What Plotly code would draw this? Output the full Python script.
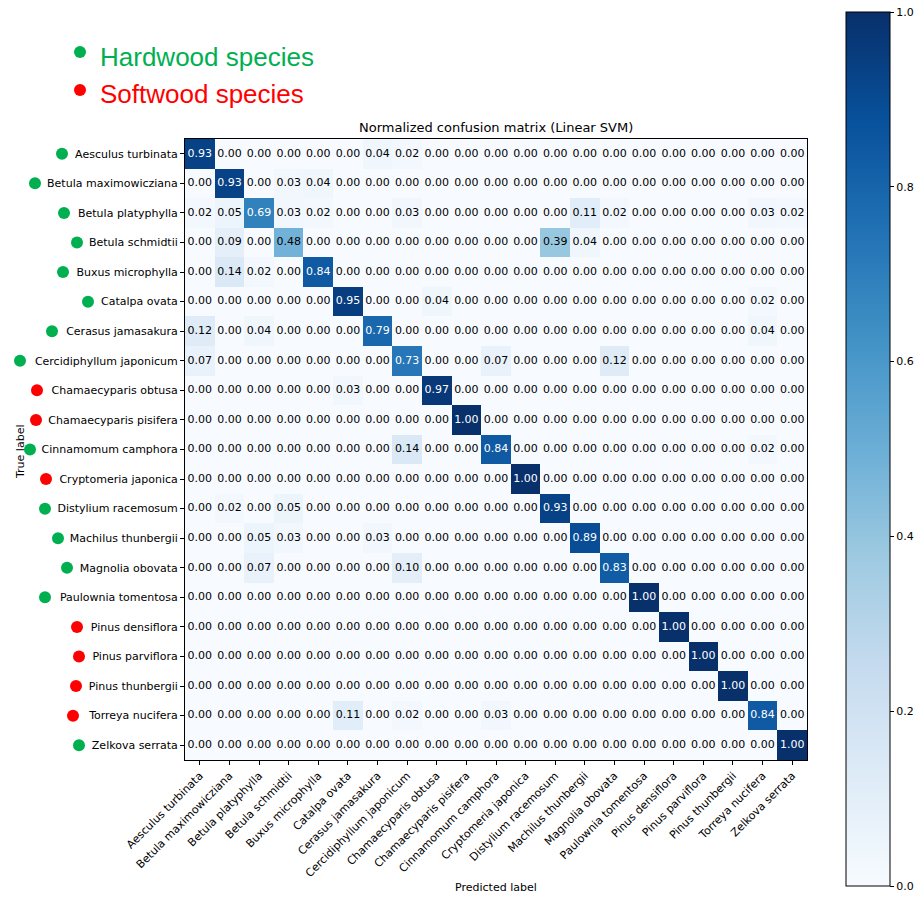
import plotly.graph_objects as go

# Species (true and predicted classes share the same order)
species = [
    "Aesculus turbinata", "Betula maximowicziana", "Betula platyphylla",
    "Betula schmidtii", "Buxus microphylla", "Catalpa ovata",
    "Cerasus jamasakura", "Cercidiphyllum japonicum", "Chamaecyparis obtusa",
    "Chamaecyparis pisifera", "Cinnamomum camphora", "Cryptomeria japonica",
    "Distylium racemosum", "Machilus thunbergii", "Magnolia obovata",
    "Paulownia tomentosa", "Pinus densiflora", "Pinus parviflora",
    "Pinus thunbergii", "Torreya nucifera", "Zelkova serrata",
]
softwood = {
    "Chamaecyparis obtusa", "Chamaecyparis pisifera", "Cryptomeria japonica",
    "Pinus densiflora", "Pinus parviflora", "Pinus thunbergii", "Torreya nucifera",
}

# Normalized confusion matrix (rows: true label, columns: predicted label)
cm = [
    [0.93, 0, 0, 0, 0, 0, 0.04, 0.02, 0, 0, 0, 0, 0, 0, 0, 0, 0, 0, 0, 0, 0],
    [0, 0.93, 0, 0.03, 0.04, 0, 0, 0, 0, 0, 0, 0, 0, 0, 0, 0, 0, 0, 0, 0, 0],
    [0.02, 0.05, 0.69, 0.03, 0.02, 0, 0, 0.03, 0, 0, 0, 0, 0, 0.11, 0.02, 0, 0, 0, 0, 0.03, 0.02],
    [0, 0.09, 0, 0.48, 0, 0, 0, 0, 0, 0, 0, 0, 0.39, 0.04, 0, 0, 0, 0, 0, 0, 0],
    [0, 0.14, 0.02, 0, 0.84, 0, 0, 0, 0, 0, 0, 0, 0, 0, 0, 0, 0, 0, 0, 0, 0],
    [0, 0, 0, 0, 0, 0.95, 0, 0, 0.04, 0, 0, 0, 0, 0, 0, 0, 0, 0, 0, 0.02, 0],
    [0.12, 0, 0.04, 0, 0, 0, 0.79, 0, 0, 0, 0, 0, 0, 0, 0, 0, 0, 0, 0, 0.04, 0],
    [0.07, 0, 0, 0, 0, 0, 0, 0.73, 0, 0, 0.07, 0, 0, 0, 0.12, 0, 0, 0, 0, 0, 0],
    [0, 0, 0, 0, 0, 0.03, 0, 0, 0.97, 0, 0, 0, 0, 0, 0, 0, 0, 0, 0, 0, 0],
    [0, 0, 0, 0, 0, 0, 0, 0, 0, 1.00, 0, 0, 0, 0, 0, 0, 0, 0, 0, 0, 0],
    [0, 0, 0, 0, 0, 0, 0, 0.14, 0, 0, 0.84, 0, 0, 0, 0, 0, 0, 0, 0, 0.02, 0],
    [0, 0, 0, 0, 0, 0, 0, 0, 0, 0, 0, 1.00, 0, 0, 0, 0, 0, 0, 0, 0, 0],
    [0, 0.02, 0, 0.05, 0, 0, 0, 0, 0, 0, 0, 0, 0.93, 0, 0, 0, 0, 0, 0, 0, 0],
    [0, 0, 0.05, 0.03, 0, 0, 0.03, 0, 0, 0, 0, 0, 0, 0.89, 0, 0, 0, 0, 0, 0, 0],
    [0, 0, 0.07, 0, 0, 0, 0, 0.10, 0, 0, 0, 0, 0, 0, 0.83, 0, 0, 0, 0, 0, 0],
    [0, 0, 0, 0, 0, 0, 0, 0, 0, 0, 0, 0, 0, 0, 0, 1.00, 0, 0, 0, 0, 0],
    [0, 0, 0, 0, 0, 0, 0, 0, 0, 0, 0, 0, 0, 0, 0, 0, 1.00, 0, 0, 0, 0],
    [0, 0, 0, 0, 0, 0, 0, 0, 0, 0, 0, 0, 0, 0, 0, 0, 0, 1.00, 0, 0, 0],
    [0, 0, 0, 0, 0, 0, 0, 0, 0, 0, 0, 0, 0, 0, 0, 0, 0, 0, 1.00, 0, 0],
    [0, 0, 0, 0, 0, 0.11, 0, 0.02, 0, 0, 0.03, 0, 0, 0, 0, 0, 0, 0, 0, 0.84, 0],
    [0, 0, 0, 0, 0, 0, 0, 0, 0, 0, 0, 0, 0, 0, 0, 0, 0, 0, 0, 0, 1.00],
]
colorbar_ticks = [0.0, 0.2, 0.4, 0.6, 0.8, 1.0]

# ---- layout geometry (pixels) ----
FIG_W, FIG_H = 916, 898
L, R, T, B = 185, 807, 139, 760
PW, PH = R - L, B - T

def px_x(px):
    return (px - L) / PW

def px_y(py):
    return (B - py) / PH

# horizontal centre of the category dot placed before each row label
dot_px = [62, 35, 64, 77, 63, 88, 52, 20, 37, 36, 30, 46, 45, 58, 67, 45, 77, 79, 76, 73, 79]

GREEN = "#00b050"
RED = "#ff0000"
FONT = "DejaVu Sans"

blues = [
    [0.0, "#f7fbff"], [0.125, "#deebf7"], [0.25, "#c6dbef"], [0.375, "#9ecae1"],
    [0.5, "#6baed6"], [0.625, "#4292c6"], [0.75, "#2171b5"], [0.875, "#08519c"],
    [1.0, "#08306b"],
]

n = len(species)
idx = list(range(n))

fig = go.Figure()
fig.add_trace(go.Heatmap(
    z=cm, x=idx, y=idx, zmin=0, zmax=1, colorscale=blues,
    xgap=0, ygap=0, hoverinfo="skip",
    colorbar=dict(
        x=px_x(846), xanchor="left", xpad=0, ypad=0,
        y=px_y((12 + 886) / 2), yanchor="middle",
        lenmode="pixels", len=886 - 12, thickness=44,
        outlinecolor="black", outlinewidth=1,
        tickvals=colorbar_ticks, ticktext=[f"{v:.1f}" for v in colorbar_ticks],
        ticks="outside", ticklen=4, tickcolor="black",
        tickfont=dict(family=FONT, size=11, color="black"),
    ),
))

# cell values, white on dark cells
thresh = max(max(r) for r in cm) / 2
tx, ty, tt, tc = [], [], [], []
for i, row in enumerate(cm):
    for j, v in enumerate(row):
        tx.append(j)
        ty.append(i)
        tt.append(f"{v:.2f}")
        tc.append("white" if v > thresh else "black")
fig.add_trace(go.Scatter(
    x=tx, y=ty, text=tt, mode="text", hoverinfo="skip", showlegend=False,
    textfont=dict(family=FONT, size=11, color=tc),
))

axis_common = dict(
    showgrid=False, zeroline=False, showline=True, linecolor="black", linewidth=1,
    mirror=True, ticks="outside", ticklen=4, tickcolor="black",
    tickfont=dict(family=FONT, size=11, color="black"),
    tickmode="array", tickvals=idx, ticktext=species, automargin=False,
)
fig.update_layout(
    width=FIG_W, height=FIG_H,
    margin=dict(l=L, r=FIG_W - R, t=T, b=FIG_H - B, pad=0, autoexpand=False),
    paper_bgcolor="white", plot_bgcolor="white",
    showlegend=False,
    xaxis=dict(axis_common, range=[-0.5, n - 0.5], tickangle=-45),
    yaxis=dict(axis_common, range=[n - 0.5, -0.5]),
)

shapes = []
for i, name in enumerate(species):
    col = RED if name in softwood else GREEN
    shapes.append(dict(
        type="circle", xref="paper", yref="y",
        xsizemode="pixel", ysizemode="pixel",
        xanchor=px_x(dot_px[i]), yanchor=i,
        x0=-6, x1=6, y0=-6, y1=6,
        fillcolor=col, line=dict(width=0), layer="above",
    ))

# group key in the top-left corner
for label, col, cy in [("Hardwood species", GREEN, 52), ("Softwood species", RED, 90)]:
    shapes.append(dict(
        type="circle", xref="paper", yref="paper",
        xsizemode="pixel", ysizemode="pixel",
        xanchor=px_x(80), yanchor=px_y(cy),
        x0=-6, x1=6, y0=-6, y1=6,
        fillcolor=col, line=dict(width=0),
    ))
fig.update_layout(shapes=shapes)

annotations = [
    dict(text="Hardwood species", x=px_x(98), y=px_y(57), xanchor="left", yanchor="middle",
         font=dict(family="Liberation Sans", size=26, color=GREEN)),
    dict(text="Softwood species", x=px_x(98), y=px_y(94), xanchor="left", yanchor="middle",
         font=dict(family="Liberation Sans", size=26, color=RED)),
    dict(text="Normalized confusion matrix (Linear SVM)", x=px_x((L + R) / 2), y=px_y(128),
         xanchor="center", yanchor="middle", font=dict(family=FONT, size=13, color="black")),
    dict(text="Predicted label", x=px_x((L + R) / 2), y=px_y(887),
         xanchor="center", yanchor="middle", font=dict(family=FONT, size=11, color="black")),
    dict(text="True label", x=px_x(20), y=px_y(452), textangle=-90,
         xanchor="center", yanchor="middle", font=dict(family=FONT, size=11, color="black")),
]
for a in annotations:
    a.update(xref="paper", yref="paper", showarrow=False)
fig.update_layout(annotations=annotations)

fig.write_html("out.html")
